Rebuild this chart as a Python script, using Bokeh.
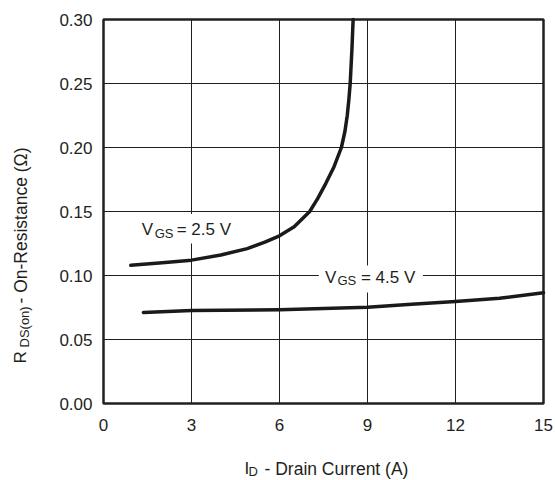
from bokeh.plotting import figure
from bokeh.models import Label, BoxAnnotation, FixedTicker, NumeralTickFormatter, Range1d
from bokeh.embed import file_html
from bokeh.resources import INLINE
import math

# ---- data ----
vgs25_id = [0.93, 2.0, 3.0, 4.0, 4.9, 5.5, 6.0, 6.5, 7.03, 7.3, 7.58, 7.86, 8.11, 8.23, 8.31, 8.365, 8.41, 8.47, 8.51]
vgs25_r = [0.108, 0.110, 0.112, 0.116, 0.121, 0.126, 0.131, 0.138, 0.150, 0.160, 0.172, 0.185, 0.200, 0.2125, 0.225, 0.2375, 0.250, 0.277, 0.300]
vgs45_id = [1.36, 3.0, 6.0, 9.0, 10.5, 12.0, 13.5, 15.0]
vgs45_r = [0.0711, 0.0727, 0.0732, 0.0752, 0.0775, 0.0797, 0.0822, 0.0865]
x_ticks = [0, 3, 6, 9, 12, 15]
y_ticks = [0.0, 0.05, 0.10, 0.15, 0.20, 0.25, 0.30]

INK = "#231f20"
FONT = "Liberation Sans"
FS = "17px"
SUB = "13px"

# canvas layout (pixels): plotting box occupies 103..543 horizontally, 19..403 vertically
W, H = 555, 480
LEFT, RIGHT, TOP, BOTTOM = 103, 543, 19, 403
xmin, xmax = x_ticks[0], x_ticks[-1]
ymin, ymax = y_ticks[0], y_ticks[-1]
sx = (RIGHT - LEFT) / (xmax - xmin)
sy = (BOTTOM - TOP) / (ymax - ymin)
x_range = Range1d(xmin - LEFT / sx, xmax + (W - RIGHT) / sx)
y_range = Range1d(ymin - (H - BOTTOM) / sy, ymax + TOP / sy)

p = figure(width=W, height=H, output_backend="svg", toolbar_location=None,
           x_range=x_range, y_range=y_range,
           min_border_left=0, min_border_right=0, min_border_top=0, min_border_bottom=0)
p.outline_line_color = None
p.background_fill_color = "white"
p.border_fill_color = "white"
p.xgrid.visible = False
p.ygrid.visible = False

for ax in (p.xaxis[0], p.yaxis[0]):
    ax.axis_line_color = None
    ax.major_tick_out = 0
    ax.major_tick_in = 0
    ax.minor_tick_out = 0
    ax.minor_tick_in = 0
    ax.major_label_text_font = FONT
    ax.major_label_text_font_size = FS
    ax.major_label_text_color = INK
    ax.axis_label = None
    ax.fixed_location = 0

p.xaxis[0].ticker = FixedTicker(ticks=x_ticks)
p.yaxis[0].ticker = FixedTicker(ticks=y_ticks)
p.yaxis[0].formatter = NumeralTickFormatter(format="0.00")
p.xaxis[0].major_label_standoff = 15
p.yaxis[0].major_label_standoff = 11

# grid lines at the ticks, limited to the plotting box
p.segment(x0=x_ticks, y0=[ymin] * len(x_ticks), x1=x_ticks, y1=[ymax] * len(x_ticks),
          line_color=INK, line_width=1)
p.segment(x0=[xmin] * len(y_ticks), y0=y_ticks, x1=[xmax] * len(y_ticks), y1=y_ticks,
          line_color=INK, line_width=1)
# frame
p.quad(left=[xmin], right=[xmax], bottom=[ymin], top=[ymax], fill_color=None,
       line_color=INK, line_width=2.5)

# curves
p.line(vgs25_id, vgs25_r, line_color="#1a1a1a", line_width=3.5, line_cap="round", line_join="round")
p.line(vgs45_id, vgs45_r, line_color="#1a1a1a", line_width=3.5, line_cap="round", line_join="round")

# white boxes behind curve labels
p.add_layout(BoxAnnotation(left=1.14, right=4.62, bottom=0.125, top=0.148,
                           fill_color="white", fill_alpha=1, line_color=None))
p.add_layout(BoxAnnotation(left=7.34, right=10.89, bottom=0.0867, top=0.1078,
                           fill_color="white", fill_alpha=1, line_color=None))

def txt(x, y, s, size=FS, angle=0.0, xo=0, yo=0, units="data"):
    p.add_layout(Label(x=x, y=y, text=s, text_font=FONT, text_font_size=size,
                       text_color=INK, text_align="left", text_baseline="alphabetic",
                       angle=angle, x_offset=xo, y_offset=yo,
                       x_units=units, y_units=units))

# curve labels
txt(1.30, 0.132, "V", yo=5)
txt(1.30, 0.132, "GS", SUB, xo=13, yo=1.5)
txt(1.30, 0.132, "= 2.5 V", xo=35, yo=5)

txt(7.55, 0.0948, "V", yo=5)
txt(7.55, 0.0948, "GS", SUB, xo=12.5, yo=1.5)
txt(7.55, 0.0948, "= 4.5 V", xo=36, yo=5)

# x axis title (screen units, origin bottom-left of canvas)
txt(244, 12, "I", units="screen")
txt(248, 9, "D", SUB, units="screen")
txt(264, 12, "- Drain Current (A)", size="17.5px", units="screen")

# y axis title (rotated)
ang = math.pi / 2
txt(20, 117, "R", angle=ang, units="screen")
txt(24, 133, "DS(on)", SUB, angle=ang, units="screen")
txt(20, 177, "- On-Resistance (\u03a9)", size="17.5px", angle=ang, units="screen")

open("out.html", "w").write(file_html(p, INLINE))
